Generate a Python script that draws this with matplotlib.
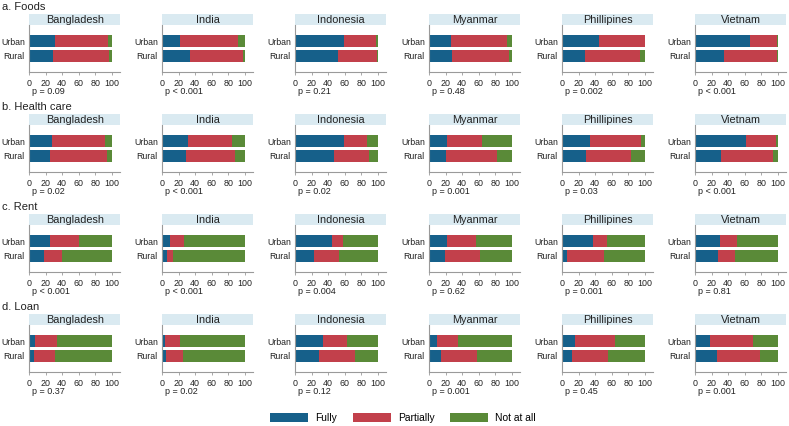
import matplotlib
matplotlib.use("Agg")
import matplotlib.pyplot as plt
from matplotlib.patches import Patch

plt.rcParams["font.family"] = ["Liberation Sans", "DejaVu Sans"]

countries = ["Bangladesh", "India", "Indonesia", "Myanmar", "Phillipines", "Vietnam"]
sections = ["a. Foods", "b. Health care", "c. Rent", "d. Loan"]
groups = ["Urban", "Rural"]
categories = ["Fully", "Partially", "Not at all"]

# Fully / Partially / Not at all  -> [country][urban, rural]
foods_fully = [[31.2, 28.8], [21.6, 33.6], [58.8, 52.4], [26.8, 28.0], [44.4, 28.0], [66.0, 35.2]]
foods_partially = [[64.0, 68.0], [70.0, 64.0], [38.4, 46.8], [67.6, 68.4], [55.4, 66.0], [33.2, 63.6]]
foods_notatall = [[4.8, 3.2], [8.4, 2.4], [2.8, 0.8], [5.6, 3.6], [0.2, 6.0], [0.8, 1.2]]

health_fully = [[28.0, 25.2], [31.6, 28.4], [59.2, 46.8], [22.0, 20.0], [33.2, 28.8], [62.0, 31.6]]
health_partially = [[63.2, 68.8], [52.8, 59.6], [28.0, 42.4], [42.4, 62.0], [62.0, 54.0], [35.6, 62.8]]
health_notatall = [[8.8, 6.0], [15.6, 12.0], [12.8, 10.8], [35.6, 18.0], [4.8, 17.2], [2.4, 5.6]]

rent_fully = [[25.2, 18.0], [9.6, 5.6], [44.8, 22.8], [22.0, 19.2], [37.2, 6.0], [29.6, 27.6]]
rent_partially = [[35.2, 22.0], [16.4, 8.0], [13.2, 30.4], [34.8, 42.0], [17.6, 44.0], [21.2, 20.8]]
rent_notatall = [[39.6, 60.0], [74.0, 86.4], [42.0, 46.8], [43.2, 38.8], [45.2, 50.0], [49.2, 51.6]]

loan_fully = [[7.6, 5.6], [3.6, 4.4], [33.2, 28.8], [9.6, 14.8], [15.2, 12.0], [17.6, 26.4]]
loan_partially = [[26.4, 26.0], [17.6, 20.4], [29.2, 43.2], [24.8, 43.6], [48.8, 43.6], [52.0, 52.4]]
loan_notatall = [[66.0, 68.4], [78.8, 75.2], [37.6, 28.0], [65.6, 41.6], [36.0, 44.4], [30.4, 21.2]]

pvalues = [
    ["p = 0.09", "p < 0.001", "p = 0.21", "p = 0.48", "p = 0.002", "p < 0.001"],
    ["p = 0.02", "p < 0.001", "p = 0.02", "p = 0.001", "p = 0.03", "p < 0.001"],
    ["p < 0.001", "p < 0.001", "p = 0.004", "p = 0.62", "p = 0.001", "p = 0.81"],
    ["p = 0.37", "p = 0.02", "p = 0.12", "p = 0.001", "p = 0.45", "p = 0.001"],
]

data = [
    (foods_fully, foods_partially, foods_notatall),
    (health_fully, health_partially, health_notatall),
    (rent_fully, rent_partially, rent_notatall),
    (loan_fully, loan_partially, loan_notatall),
]

colors = ["#16608A", "#C2404B", "#5A8A38"]
strip_color = "#DAEAF1"
axis_color = "#9A9A9A"
text_color = "#222222"
xticks = [0, 20, 40, 60, 80, 100]

W, H = 789, 426
fig = plt.figure(figsize=(W / 100, H / 100), dpi=100)
fig.patch.set_facecolor("white")

col_left = [29, 162, 295, 429, 562, 695]
ax_w = 91.3

for r in range(4):
    top = 100 * r
    strip_top = top + 14
    strip_bot = top + 25
    ax_bot = top + 72
    fig.text(2 / W, 1 - (top + 7) / H, sections[r], fontsize=8.0, ha="left", va="center", color=text_color)
    fully, partially, notatall = data[r]
    for c in range(6):
        x0 = col_left[c]
        sax = fig.add_axes([x0 / W, 1 - strip_bot / H, ax_w / W, (strip_bot - strip_top) / H])
        sax.set_facecolor(strip_color)
        for s in sax.spines.values():
            s.set_visible(False)
        sax.set_xticks([])
        sax.set_yticks([])
        sax.text(0.5, 0.45, countries[c], transform=sax.transAxes, ha="center", va="center",
                 fontsize=7.8, color=text_color)

        ax = fig.add_axes([x0 / W, 1 - ax_bot / H, ax_w / W, (ax_bot - strip_bot) / H])
        ypos = [1, 0]
        left = [0, 0]
        vals = [fully[c], partially[c], notatall[c]]
        for k in range(3):
            ax.barh(ypos, vals[k], left=left, height=0.8, color=colors[k], edgecolor="none")
            left = [left[i] + vals[k][i] for i in range(2)]
        ax.set_xlim(0, 110)
        ax.set_ylim(-1.07, 2.07)
        ax.set_yticks(ypos)
        ax.set_yticklabels(groups, fontsize=6.3, color=text_color)
        ax.set_xticks(xticks)
        ax.set_xticklabels([str(t) for t in xticks], fontsize=6.4, color=text_color)
        ax.tick_params(axis="x", length=2.2, width=0.6, color=axis_color, pad=2.8)
        ax.tick_params(axis="y", length=0, pad=3.0)
        for s in ["top", "right"]:
            ax.spines[s].set_visible(False)
        for s in ["left", "bottom"]:
            ax.spines[s].set_color(axis_color)
            ax.spines[s].set_linewidth(0.8)
        fig.text((x0 + 3) / W, 1 - (top + 91.5) / H, pvalues[r][c], fontsize=6.5,
                 ha="left", va="center", color=text_color)

handles = [Patch(facecolor=colors[k], edgecolor="none") for k in range(3)]
fig.legend(handles, categories, loc="center", bbox_to_anchor=(403 / W, 1 - 418 / H), ncol=3,
           frameon=False, fontsize=7.4, handlelength=3.7, handleheight=1.0,
           columnspacing=1.5, handletextpad=0.7, borderpad=0.1)

fig.savefig("out.png", dpi=100, facecolor="white")
